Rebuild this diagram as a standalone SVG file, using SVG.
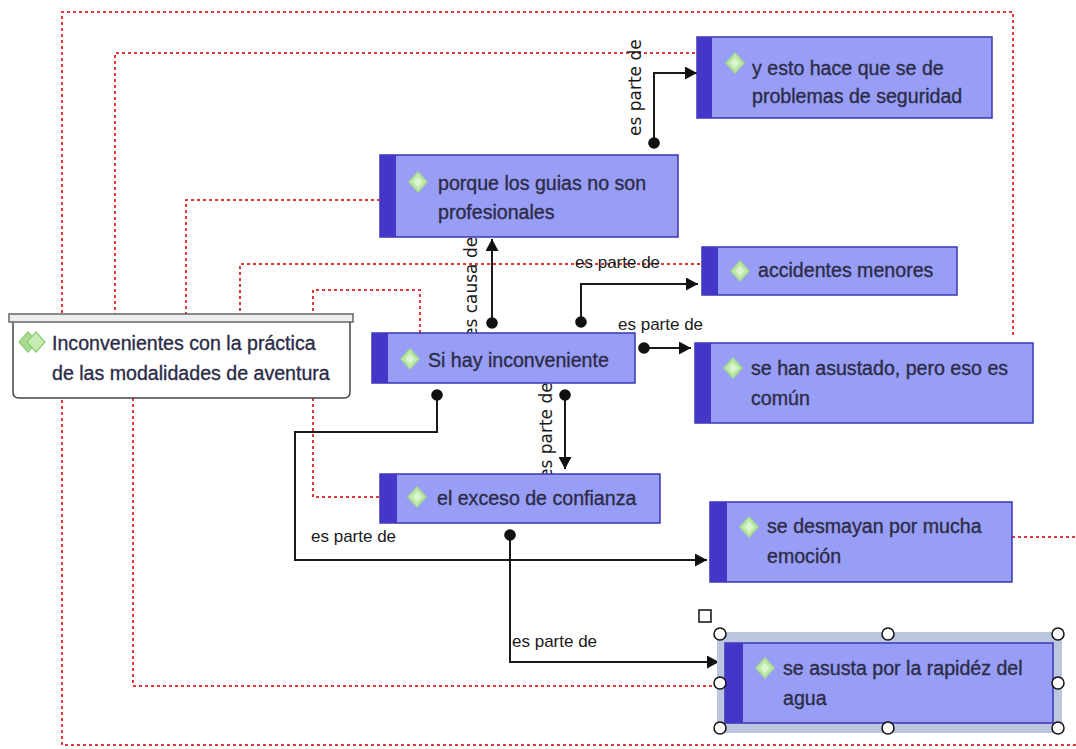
<svg xmlns="http://www.w3.org/2000/svg" width="1076" height="749" viewBox="0 0 1076 749">
<style>
.dot{fill:none;stroke:#e23a3a;stroke-width:2;stroke-dasharray:3 3}
.con{fill:none;stroke:#1a1a1a;stroke-width:2;marker-start:url(#dotm);marker-end:url(#arr)}
.body{fill:#989df5;stroke:#3a36b4;stroke-width:1.5}
.strip{fill:#4436c6}
.nt{font-family:"Liberation Sans",Arial,sans-serif;font-size:19.6px;fill:#2c2c48;stroke:#2c2c48;stroke-width:0.35}
.lb{font-family:"Liberation Sans",Arial,sans-serif;font-size:17px;fill:#1a1a1a}
.vl{font-family:"DejaVu Sans",Verdana,sans-serif;font-size:17px;fill:#1a1a1a}
.hd{fill:#fff;stroke:#111;stroke-width:1.5}
</style>
<defs>
<marker id="arr" markerUnits="userSpaceOnUse" markerWidth="13" markerHeight="13" refX="12" refY="6.5" orient="auto"><path d="M0,0 L12,6.5 L0,13 z" fill="#111"/></marker>
<marker id="dotm" markerUnits="userSpaceOnUse" markerWidth="14" markerHeight="14" refX="7" refY="7"><circle cx="7" cy="7" r="5.8" fill="#111"/></marker>
<g id="ico"><polygon points="0,-10 9,0 0,10 -9,0" fill="#bfe8ab" stroke="#a6d88f" stroke-width="1.5"/><polygon points="0,-5 4.5,0 0,5 -4.5,0" fill="#dcf5cf"/></g>
</defs>
<rect width="1076" height="749" fill="#fff"/>
<g id="links">
<path class="dot" d="M1013,335 V12 H62 V745 H1076"/>
<path class="dot" d="M695,53 H115 V315"/>
<path class="dot" d="M380,200 H186 V315"/>
<path class="dot" d="M700,264 H240 V315"/>
<path class="dot" d="M420,333 V290 H313 V497 H380"/>
<path class="dot" d="M133,398 V686 H717"/>
<path class="dot" d="M1012,537 H1076"/>
</g>
<g id="connectors">
<path class="con" d="M654,143 V73 H697"/>
<path class="con" d="M492,323 V239"/>
<path class="con" d="M581,322 V284 H698"/>
<path class="con" d="M644,348 H691"/>
<path class="con" d="M565,395 V469"/>
<path class="con" d="M437,395 V432 H295 V560 H707"/>
<path class="con" d="M510,535 V662 H719"/>
<text class="vl" transform="translate(641,136) rotate(-90)">es parte de</text>
<text class="vl" transform="translate(477,338) rotate(-90)">es causa de</text>
<text class="vl" transform="translate(552,479) rotate(-90)">es parte de</text>
<text class="lb" x="575" y="268">es parte de</text>
<text class="lb" x="618" y="330">es parte de</text>
<text class="lb" x="311" y="542">es parte de</text>
<text class="lb" x="512" y="647">es parte de</text>
</g>
<g id="n-inconvenientes">
<path d="M13,321 H350 V392 Q350,398 344,398 H19 Q13,398 13,392 Z" fill="#fff" stroke="#444" stroke-width="1.5"/>
<rect x="9" y="314" width="344" height="8" fill="#eeeeee" stroke="#666" stroke-width="1.5"/>
<polygon points="28,332 37,342 28,352 19,342" fill="#a9dc93" stroke="#8ccc74" stroke-width="1.2"/>
<polygon points="36,332 45,342 36,352 27,342" fill="#c6ecb4" stroke="#8ccc74" stroke-width="1.2"/>
<text class="nt" x="52" y="350">Inconvenientes con la práctica</text>
<text class="nt" x="52" y="380">de las modalidades de aventura</text>
</g>
<g id="n-yesto">
<rect class="body" x="697" y="37" width="295" height="81"/>
<rect class="strip" x="697" y="37" width="15" height="81"/>
<use href="#ico" x="735" y="63"/>
<text class="nt" x="752" y="75">y esto hace que se de</text>
<text class="nt" x="752" y="103">problemas de seguridad</text>
</g>
<g id="n-porque">
<rect class="body" x="380" y="155" width="298" height="82"/>
<rect class="strip" x="380" y="155" width="16" height="82"/>
<use href="#ico" x="418" y="182"/>
<text class="nt" x="438" y="190">porque los guias no son</text>
<text class="nt" x="438" y="219">profesionales</text>
</g>
<g id="n-accidentes">
<rect class="body" x="702" y="247" width="255" height="48"/>
<rect class="strip" x="702" y="247" width="16" height="48"/>
<use href="#ico" x="740" y="271"/>
<text class="nt" x="758" y="277">accidentes menores</text>
</g>
<g id="n-sihay">
<rect class="body" x="372" y="333" width="263" height="50"/>
<rect class="strip" x="372" y="333" width="16" height="50"/>
<use href="#ico" x="410" y="359"/>
<text class="nt" x="428" y="367">Si hay inconveniente</text>
</g>
<g id="n-sehan">
<rect class="body" x="695" y="343" width="338" height="80"/>
<rect class="strip" x="695" y="343" width="16" height="80"/>
<use href="#ico" x="733" y="368"/>
<text class="nt" x="751" y="375">se han asustado, pero eso es</text>
<text class="nt" x="751" y="405">común</text>
</g>
<g id="n-exceso">
<rect class="body" x="380" y="474" width="280" height="49"/>
<rect class="strip" x="380" y="474" width="17" height="49"/>
<use href="#ico" x="417" y="497"/>
<text class="nt" x="437" y="505">el exceso de confianza</text>
</g>
<g id="n-desmayan">
<rect class="body" x="710" y="502" width="302" height="80"/>
<rect class="strip" x="710" y="502" width="17" height="80"/>
<use href="#ico" x="749" y="527"/>
<text class="nt" x="767" y="533">se desmayan por mucha</text>
<text class="nt" x="767" y="563">emoción</text>
</g>
<g id="n-seasusta">
<rect x="717" y="632" width="345" height="101" fill="#bcc6df"/>
<rect class="body" x="725" y="643" width="328" height="80"/>
<rect class="strip" x="725" y="643" width="18" height="80"/>
<use href="#ico" x="765" y="668"/>
<text class="nt" x="783" y="675">se asusta por la rapidéz del</text>
<text class="nt" x="783" y="705">agua</text>
<rect x="699" y="610" width="12" height="12" fill="#fff" stroke="#111" stroke-width="1.5"/>
<circle class="hd" cx="720" cy="634" r="6"/>
<circle class="hd" cx="888" cy="634" r="6"/>
<circle class="hd" cx="1058" cy="634" r="6"/>
<circle class="hd" cx="720" cy="683" r="6"/>
<circle class="hd" cx="1058" cy="683" r="6"/>
<circle class="hd" cx="720" cy="728" r="6"/>
<circle class="hd" cx="888" cy="728" r="6"/>
<circle class="hd" cx="1058" cy="728" r="6"/>
</g>
</svg>
